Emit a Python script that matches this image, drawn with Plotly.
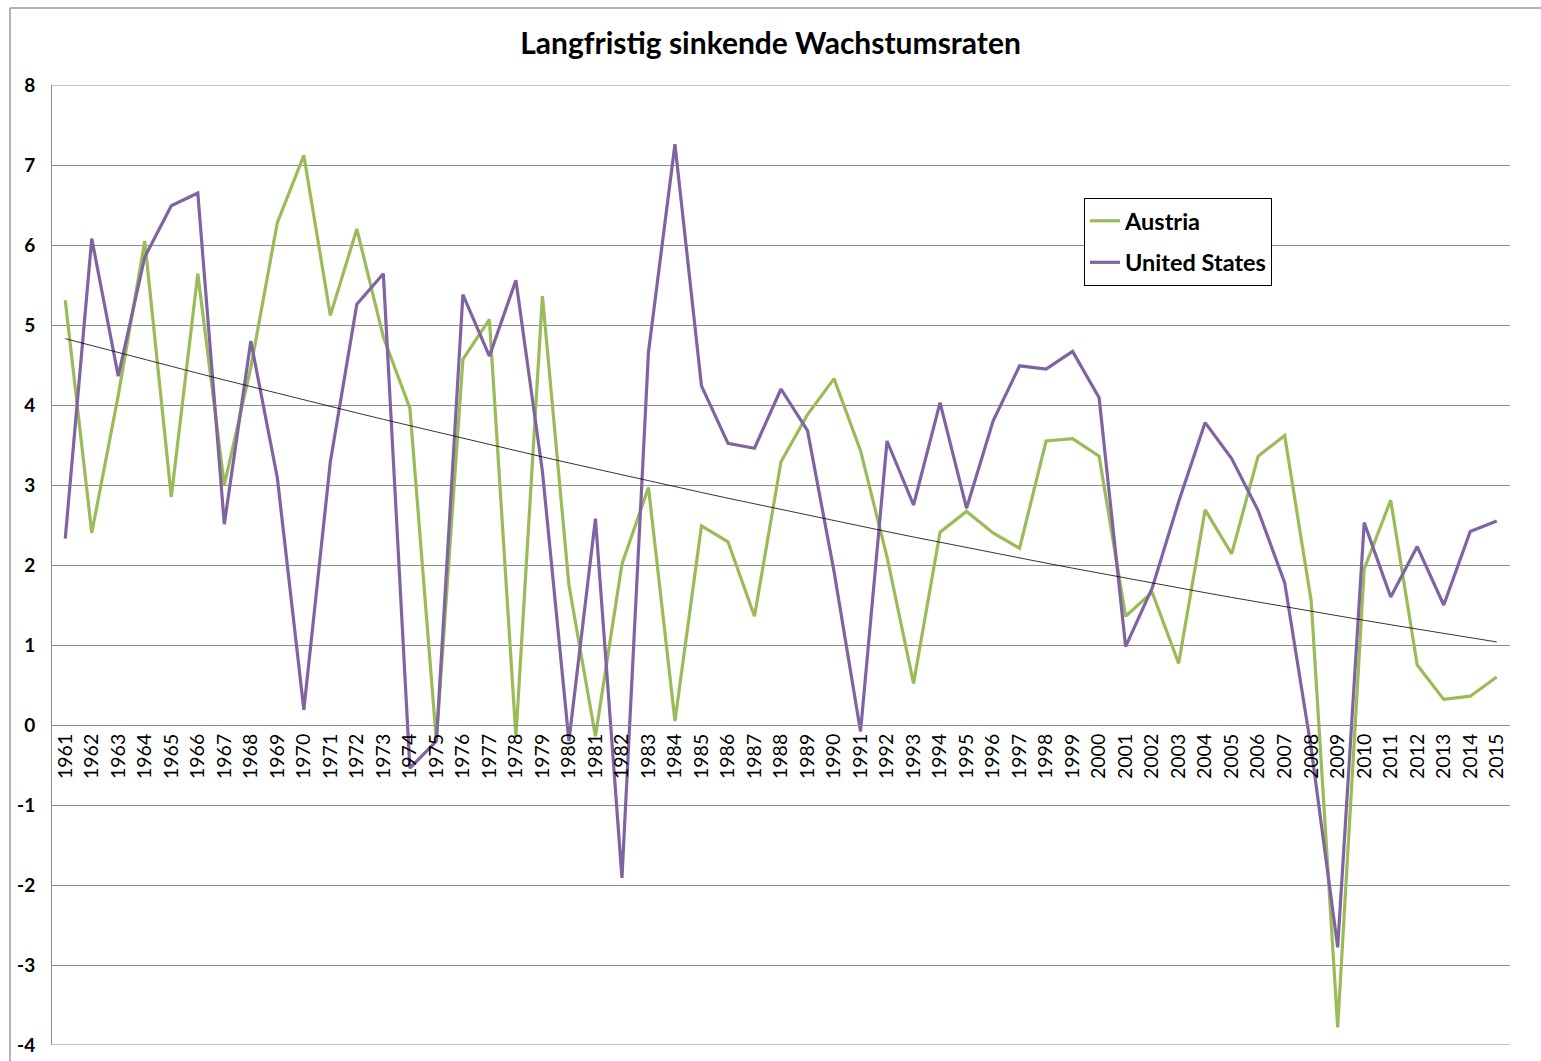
import numpy as np
import plotly.graph_objects as go

years = list(range(1961, 2016))

austria = [5.31, 2.40, 4.12, 6.05, 2.85, 5.64, 3.00, 4.47, 6.28, 7.12,
           5.12, 6.20, 4.85, 3.96, -0.20, 4.57, 5.07, -0.15, 5.36, 1.75,
           -0.14, 2.01, 2.97, 0.05, 2.49, 2.29, 1.36, 3.29, 3.88, 4.33,
           3.43, 2.10, 0.52, 2.41, 2.67, 2.40, 2.21, 3.55, 3.58, 3.36,
           1.36, 1.66, 0.77, 2.69, 2.14, 3.36, 3.62, 1.55, -3.78, 1.95,
           2.81, 0.75, 0.32, 0.36, 0.60]

united_states = [2.33, 6.08, 4.36, 5.85, 6.49, 6.65, 2.51, 4.80, 3.09, 0.19,
                 3.29, 5.26, 5.64, -0.54, -0.20, 5.38, 4.61, 5.56, 3.17, -0.20,
                 2.58, -1.91, 4.66, 7.26, 4.24, 3.52, 3.46, 4.20, 3.68, 1.92,
                 -0.08, 3.55, 2.75, 4.03, 2.71, 3.80, 4.49, 4.45, 4.67, 4.09,
                 0.98, 1.71, 2.79, 3.78, 3.33, 2.68, 1.78, -0.29, -2.78, 2.53,
                 1.60, 2.23, 1.50, 2.42, 2.55]

y_ticks = list(range(-4, 9))

# polynomial (order 2) trendline of the Austria series
t = np.arange(len(years))
coef = np.polyfit(t, np.array(austria), 2)
trend = np.polyval(coef, t)

GREEN = "#9BBB59"
PURPLE = "#8064A2"
GRID = "#8c8c8c"

fig = go.Figure()
fig.add_trace(go.Scatter(x=years, y=austria, mode="lines", name="Austria",
                         legendgroup="a",
                         line=dict(color=GREEN, width=3.2)))
fig.add_trace(go.Scatter(x=years, y=united_states, mode="lines", name="United States",
                         legendgroup="b",
                         line=dict(color=PURPLE, width=3.2)))
fig.add_trace(go.Scatter(x=years, y=trend, mode="lines", showlegend=False,
                         line=dict(color="black", width=0.8), hoverinfo="skip"))

L, R, T, B = 52, 31, 85, 16
W, H = 1541, 1061
pw, ph = W - L - R, H - T - B

fig.update_layout(
    width=W, height=H,
    margin=dict(l=L, r=R, t=T, b=B, autoexpand=False),
    paper_bgcolor="white", plot_bgcolor="white",
    title=dict(text="<b>Langfristig sinkende Wachstumsraten</b>",
               x=0.5, xanchor="center", y=1 - 43 / H, yanchor="middle",
               font=dict(family="Lato", size=30, color="black")),
    font=dict(family="Lato", color="black"),
    xaxis=dict(range=[1960.5, 2015.5], tickmode="array", tickvals=years,
               ticktext=[str(y) for y in years], tickangle=-90,
               tickfont=dict(family="Lato", size=19.5, color="black"),
               showgrid=False, zeroline=False, showline=True,
               linecolor=GRID, linewidth=1, ticks="", automargin=False,
               anchor="free", position=4 / 12),
    yaxis=dict(range=[y_ticks[0], y_ticks[-1]], tickmode="array", tickvals=y_ticks,
               ticktext=[str(v) for v in y_ticks],
               tickfont=dict(family="Lato", size=19, color="black", weight="bold"),
               showgrid=True, gridcolor=GRID, gridwidth=1, zeroline=False,
               showline=True, linecolor=GRID, linewidth=1, ticks="",
               ticklabelstandoff=12, automargin=False),
    legend=dict(x=(1084 - L) / pw, y=(H - B - 198) / ph, xanchor="left", yanchor="top",
                bordercolor="black", borderwidth=1, bgcolor="white",
                font=dict(family="Lato", size=23.5, color="black", weight="bold"),
                tracegroupgap=8, itemwidth=30),
    showlegend=True,
)

# gridlines at the ends of the value axis
for yv in (y_ticks[0], y_ticks[-1]):
    fig.add_shape(type="line", xref="paper", yref="y", x0=0, x1=1, y0=yv, y1=yv,
                  line=dict(color=GRID, width=1), layer="below")

# outer chart frame
fig.add_shape(type="line", xref="paper", yref="paper",
              x0=(10 - L) / pw, x1=(W - L) / pw + 0.01,
              y0=(H - B - 8) / ph, y1=(H - B - 8) / ph,
              line=dict(color="#9a9a9a", width=1.5))
fig.add_shape(type="line", xref="paper", yref="paper",
              x0=(10 - L) / pw, x1=(10 - L) / pw,
              y0=(H - B - 8) / ph, y1=-0.05,
              line=dict(color="#9a9a9a", width=1.5))

fig.write_html("out.html", config={"displayModeBar": False},
               post_script="document.body.style.margin='0px';")
